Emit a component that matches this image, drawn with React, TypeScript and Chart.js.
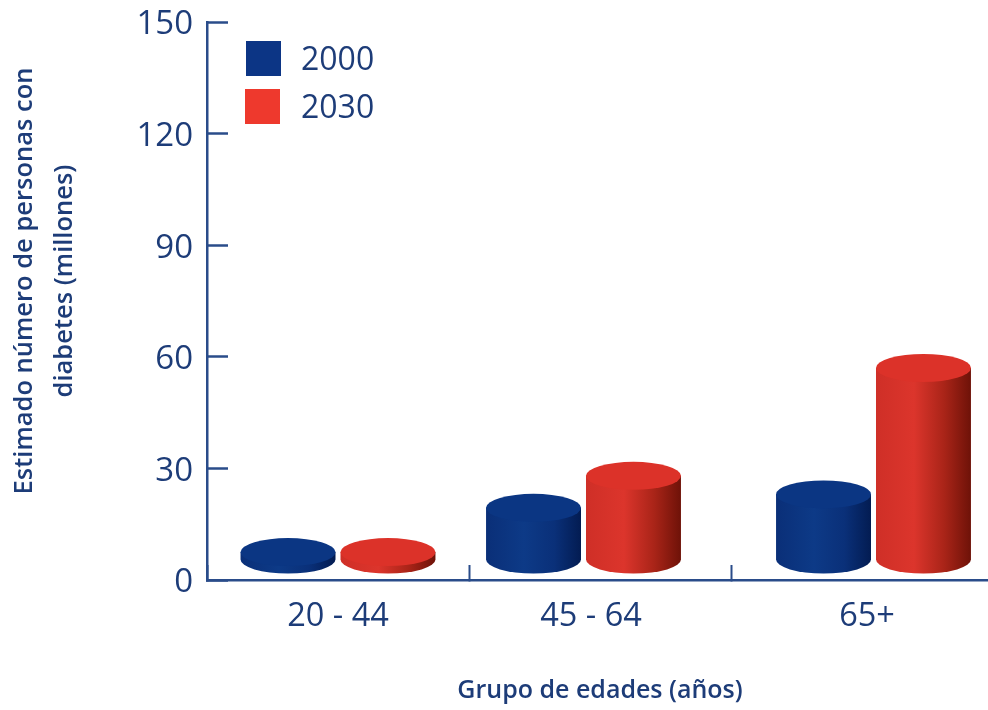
import React, { useEffect, useRef } from "react";
import { Chart, registerables, BarController, CategoryScale, LinearScale } from "chart.js";

const categories = ["20 - 44", "45 - 64", "65+"];
const series2000 = [7.5, 19.4, 23];
const series2030 = [7.5, 28, 57];
const yTicksMax = 150;
const yTicksStep = 30;
const legendYears = ["2000", "2030"];

const INK = "#1d3c78";
const AXIS = "#2a4c8a";
const FONT = "'Open Sans', sans-serif";

// Layout of the irregularly spaced groups, in pixels from the category centre.
const groupShift = [0, -16.5, 11.5];
const labelShift = [0, -9, 5];
const FLOOR_LIFT = 20;
const CAP_RY = 14;

const palette = {
  blue: {
    cap: "#0b3683",
    stops: ["#0a2f78", "#0d3a87", "#0a3079", "#031c52"],
    legend: "#0c3585",
  },
  red: {
    cap: "#dc3229",
    stops: ["#cf2f27", "#dc352c", "#a92418", "#6e1208"],
    legend: "#ee392d",
  },
};

// Bar controller that paints each value as a standing cylinder.
class CylinderController extends BarController {
  static id = "cylinder";
  static defaults = BarController.defaults;
  static overrides = BarController.overrides;

  draw() {
    const ctx = this.chart.ctx;
    const tone = this.index === 0 ? palette.blue : palette.red;
    this._cachedMeta.data.forEach((bar: any, i: number) => {
      const cx = bar.x + groupShift[i];
      const rx = bar.width / 2;
      const topY = bar.y;
      const baseY = bar.base - FLOOR_LIFT;
      const side = ctx.createLinearGradient(cx - rx, 0, cx + rx, 0);
      side.addColorStop(0, tone.stops[0]);
      side.addColorStop(0.4, tone.stops[1]);
      side.addColorStop(0.72, tone.stops[2]);
      side.addColorStop(1, tone.stops[3]);
      ctx.save();
      ctx.fillStyle = side;
      ctx.beginPath();
      ctx.moveTo(cx - rx, topY);
      ctx.lineTo(cx - rx, baseY);
      ctx.ellipse(cx, baseY, rx, CAP_RY, 0, Math.PI, 0, true);
      ctx.lineTo(cx + rx, topY);
      ctx.closePath();
      ctx.fill();
      ctx.fillStyle = tone.cap;
      ctx.beginPath();
      ctx.ellipse(cx, topY, rx, CAP_RY, 0, 0, Math.PI * 2);
      ctx.fill();
      ctx.restore();
    });
  }
}

// Category axis whose labels follow the uneven group positions.
class ShiftedCategoryScale extends CategoryScale {
  static id = "shiftedCategory";
  static defaults = CategoryScale.defaults;

  _computeLabelItems(chartArea: any) {
    const items = (super._computeLabelItems as any)(chartArea);
    items.forEach((item: any, i: number) => {
      item.options.translation[0] += labelShift[i] ?? 0;
    });
    return items;
  }
}

// Value axis with its title above the plot's centre and its numbers set slightly low.
class RaisedTitleScale extends LinearScale {
  static id = "raisedTitle";
  static defaults = LinearScale.defaults;

  _computeLabelItems(chartArea: any) {
    const items = (super._computeLabelItems as any)(chartArea);
    items.forEach((item: any) => {
      item.options.translation[1] += 3;
    });
    return items;
  }

  drawTitle() {
    this.ctx.save();
    this.ctx.translate(0, -20);
    (super.drawTitle as any)();
    this.ctx.restore();
  }
}

// Square swatches with the year beside them, top left of the plot.
const yearKey = {
  id: "yearKey",
  afterDatasetsDraw(chart: any) {
    const { ctx } = chart;
    const tops = [41, 89];
    const lefts = [246, 245];
    ctx.save();
    legendYears.forEach((year, i) => {
      ctx.fillStyle = i === 0 ? palette.blue.legend : palette.red.legend;
      ctx.fillRect(lefts[i], tops[i], 35, 35);
      ctx.fillStyle = INK;
      ctx.font = `32px ${FONT}`;
      ctx.textAlign = "left";
      ctx.textBaseline = "middle";
      ctx.fillText(year, 301, tops[i] + 20);
    });
    ctx.restore();
  },
};

Chart.register(...registerables, CylinderController, ShiftedCategoryScale, RaisedTitleScale);

export default function App() {
  const ref = useRef<HTMLCanvasElement>(null);

  useEffect(() => {
    document.body.style.margin = "0";
    document.body.style.background = "#ffffff";
    const chart = new Chart(ref.current!, {
      type: "cylinder" as any,
      data: {
        labels: categories,
        datasets: [
          { label: legendYears[0], data: series2000, backgroundColor: palette.blue.cap },
          { label: legendYears[1], data: series2030, backgroundColor: palette.red.cap },
        ],
      },
      plugins: [yearKey],
      options: {
        animation: false,
        responsive: false,
        layout: { padding: { top: 22, right: 0, left: 0, bottom: 0 } },
        plugins: { legend: { display: false }, tooltip: { enabled: false } },
        datasets: { cylinder: { categoryPercentage: 0.763, barPercentage: 0.95 } } as any,
        scales: {
          x: {
            type: "shiftedCategory" as any,
            offset: true,
            afterFit: (s: any) => {
              s.height = 130;
              s.paddingLeft = 0;
              s.paddingRight = 0;
            },
            border: { color: AXIS, width: 2.5 },
            grid: {
              offset: true,
              drawOnChartArea: false,
              drawTicks: true,
              tickLength: -15,
              color: AXIS,
              tickWidth: 2,
            },
            ticks: {
              color: INK,
              font: { family: FONT, size: 32.5 },
              padding: 32,
              maxRotation: 0,
            },
            title: {
              display: true,
              text: "Grupo de edades (años)",
              color: INK,
              font: { family: FONT, size: 25, weight: "600" },
              padding: { top: 24, bottom: 4 },
            },
          },
          y: {
            type: "raisedTitle" as any,
            min: 0,
            max: yTicksMax,
            afterFit: (s: any) => {
              s.width = 207;
              s.paddingTop = 0;
              s.paddingBottom = 0;
            },
            border: { color: AXIS, width: 2.5 },
            grid: {
              drawOnChartArea: false,
              drawTicks: true,
              tickLength: -21,
              color: AXIS,
              tickWidth: 2.5,
            },
            ticks: {
              stepSize: yTicksStep,
              color: INK,
              font: { family: FONT, size: 33 },
              padding: 35,
            },
            title: {
              display: true,
              text: ["Estimado número de personas con", "diabetes (millones)"],
              color: INK,
              font: { family: FONT, size: 25.5, weight: "600", lineHeight: 1.57 },
              padding: { top: 5, bottom: 0 },
            },
          },
        },
      },
    } as any);
    return () => chart.destroy();
  }, []);

  return (
    <div style={{ width: 988, height: 710, overflow: "hidden" }}>
      <canvas ref={ref} width={993} height={710} style={{ display: "block" }} />
    </div>
  );
}
